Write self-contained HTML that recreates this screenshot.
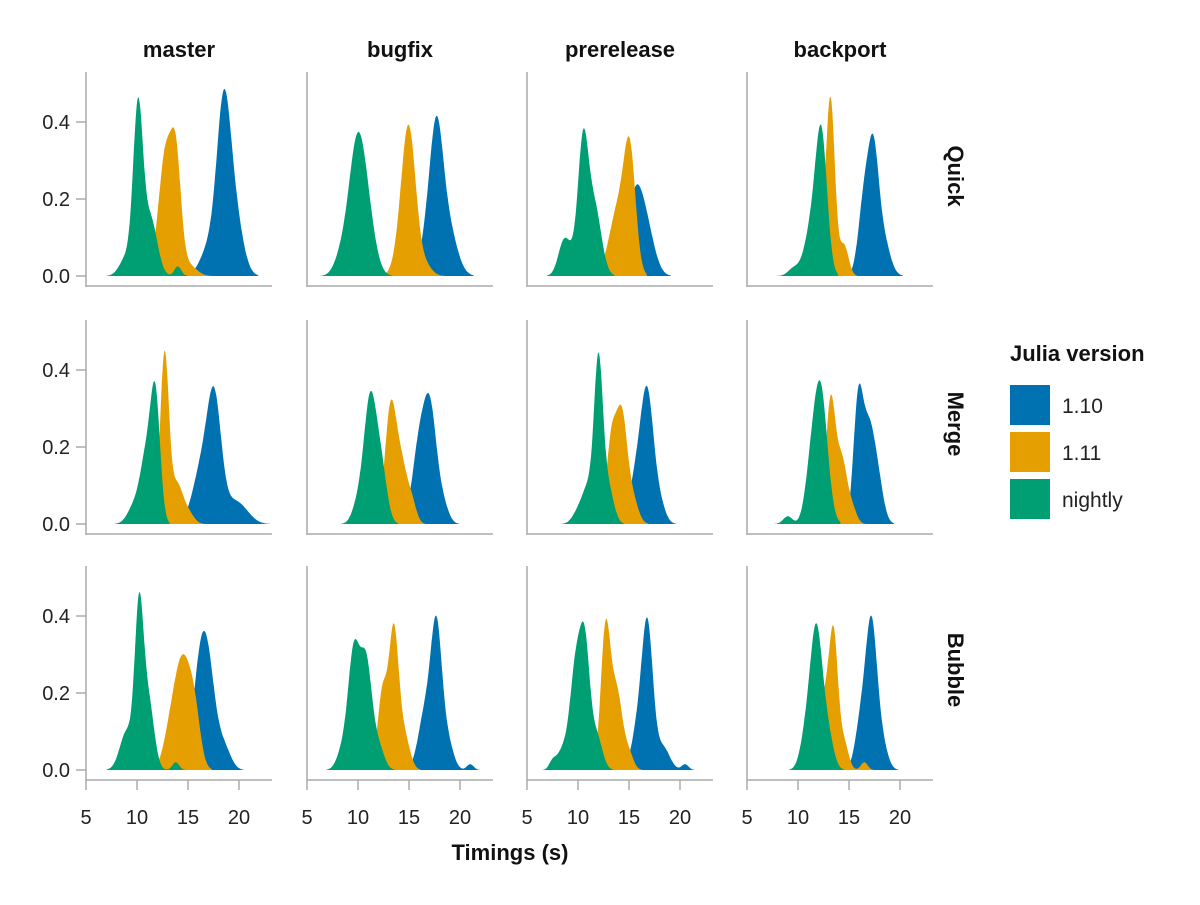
<!DOCTYPE html>
<html><head><meta charset="utf-8"><style>
html,body{margin:0;padding:0;background:#fff}
svg text{font-family:"Liberation Sans",sans-serif}
</style></head><body>
<svg id="s" width="1200" height="900" xmlns="http://www.w3.org/2000/svg"></svg>
<script>
const S=document.getElementById('s');
const C={b:'#0072b2',o:'#e69f00',g:'#009e73'};
const colX=[86,307,527,747], rowZero=[276,524,770];
const cols=['master','bugfix','prerelease','backport'], rows=['Quick','Merge','Bubble'];
const D=[
[
 {b:[[18.5,0.6,0.4],[19.6,0.7,0.15],[17.2,0.8,0.08]],o:[[12.8,0.5,0.28],[13.8,0.45,0.3],[12.0,0.5,0.06],[15,0.7,0.03]],g:[[10.1,0.42,0.42],[11.3,0.6,0.15],[9,0.6,0.05],[14,0.3,0.025]]},
 {b:[[17.7,0.55,0.3],[18.7,0.8,0.14],[16.8,0.6,0.1]],o:[[15,0.6,0.36],[14.2,0.6,0.06],[16.5,0.6,0.03]],g:[[9.9,0.75,0.33],[11,0.7,0.1],[8.3,0.6,0.04]]},
 {b:[[15.6,0.7,0.2],[16.8,0.7,0.1]],o:[[15.1,0.5,0.27],[14,0.8,0.18]],g:[[10.5,0.45,0.32],[11.6,0.6,0.18],[8.6,0.5,0.08],[9.5,0.6,0.04]]},
 {b:[[17.4,0.45,0.27],[16.5,0.5,0.2],[18.3,0.6,0.1]],o:[[13.2,0.38,0.44],[14.5,0.4,0.08],[12.5,0.4,0.08]],g:[[12.3,0.5,0.35],[11.3,0.6,0.12],[9.6,0.5,0.02]]}
],
[
 {b:[[17.6,0.6,0.28],[16.4,0.8,0.15],[19.3,0.9,0.05],[20.5,0.8,0.02]],o:[[12.7,0.38,0.44],[13.9,0.5,0.1],[15,0.5,0.03]],g:[[11.8,0.42,0.32],[10.9,0.5,0.16],[9.8,0.6,0.05]]},
 {b:[[17.1,0.55,0.27],[16,0.6,0.2],[18.3,0.5,0.05]],o:[[13.2,0.5,0.3],[14.3,0.5,0.14],[15.3,0.4,0.05]],g:[[11.2,0.55,0.32],[12.3,0.5,0.13],[10,0.5,0.05]]},
 {b:[[16.8,0.55,0.32],[15.7,0.6,0.12],[18,0.5,0.05]],o:[[14.3,0.45,0.26],[13.3,0.45,0.22],[15.3,0.5,0.07]],g:[[12,0.38,0.4],[12.9,0.5,0.1],[11,0.5,0.09],[10,0.5,0.03]]},
 {b:[[15.9,0.42,0.31],[16.9,0.5,0.22],[17.8,0.5,0.11]],o:[[13.2,0.42,0.32],[14.3,0.45,0.16],[15.3,0.4,0.04]],g:[[12.2,0.6,0.35],[11.2,0.5,0.1],[9,0.4,0.02]]}
],
[
 {b:[[16.2,0.65,0.26],[17.1,0.6,0.18],[18.5,0.6,0.06]],o:[[14.5,0.75,0.28],[15.7,0.5,0.1],[13.2,0.6,0.07]],g:[[10.2,0.38,0.39],[11.1,0.5,0.18],[9,0.6,0.1],[13.8,0.3,0.02]]},
 {b:[[17.7,0.48,0.35],[16.6,0.6,0.15],[18.8,0.5,0.07],[21,0.3,0.015]],o:[[13.5,0.42,0.35],[12.4,0.42,0.2],[14.5,0.5,0.09]],g:[[9.6,0.5,0.3],[10.8,0.5,0.27],[8.5,0.5,0.05],[12,0.5,0.06]]},
 {b:[[16.8,0.48,0.37],[15.8,0.5,0.1],[18.3,0.6,0.06],[20.5,0.3,0.015]],o:[[12.7,0.42,0.36],[13.8,0.5,0.2],[15,0.4,0.04]],g:[[10.7,0.42,0.28],[9.8,0.5,0.27],[8.5,0.5,0.05],[11.8,0.5,0.09],[7.5,0.3,0.02]]},
 {b:[[17.2,0.48,0.36],[16.2,0.5,0.13],[18.2,0.5,0.07]],o:[[13.5,0.38,0.33],[12.6,0.45,0.18],[14.5,0.4,0.07],[16.5,0.3,0.02]],g:[[11.8,0.52,0.35],[10.8,0.5,0.09],[12.9,0.5,0.09]]}
]];
let h='';
function dens(cs,x){let s=0;for(const [m,sg,a] of cs)s+=a*Math.exp(-0.5*((x-m)/(sg*1.12))**2);return s;}
for(let r=0;r<3;r++)for(let c=0;c<4;c++){
 const x0=colX[c], z=rowZero[r];
 const X=v=>x0+(v-5)*10.2, Y=v=>z-v*385;
 for(const k of ['b','o','g']){
  const cs=D[r][c][k];
  let lo=Math.min(...cs.map(q=>q[0]-3.3*q[1])),hi=Math.max(...cs.map(q=>q[0]+3.3*q[1]));
  let p='M'+X(lo).toFixed(1)+','+z;
  for(let v=lo;v<=hi;v+=0.05)p+='L'+X(v).toFixed(1)+','+Y(dens(cs,v)).toFixed(1);
  p+='L'+X(hi).toFixed(1)+','+z+'Z';
  h+=`<path d="${p}" fill="${C[k]}"/>`;
 }
 const top=z-204, bot=z+10;
 h+=`<line x1="${x0}" y1="${top}" x2="${x0}" y2="${bot+1}" stroke="#aaa" stroke-width="1.5"/>`;
 h+=`<line x1="${x0}" y1="${bot}" x2="${x0+186}" y2="${bot}" stroke="#aaa" stroke-width="1.5"/>`;
 if(c==0){for(const t of [0,0.2,0.4]){const y=Y(t);h+=`<line x1="${x0-10}" y1="${y}" x2="${x0}" y2="${y}" stroke="#aaa" stroke-width="1.5"/><text x="${x0-16}" y="${y+7}" font-size="20" text-anchor="end" fill="#222">${t.toFixed(1)}</text>`;}}
 if(r==2){for(const t of [5,10,15,20]){const x=X(t);h+=`<line x1="${x}" y1="${bot}" x2="${x}" y2="${bot+10}" stroke="#aaa" stroke-width="1.5"/><text x="${x}" y="${bot+44}" font-size="20" text-anchor="middle" fill="#222">${t}</text>`;}}
 if(r==0)h+=`<text x="${x0+93}" y="57" font-size="22" font-weight="bold" text-anchor="middle" fill="#111">${cols[c]}</text>`;
 if(c==3)h+=`<text transform="translate(948,${z-100}) rotate(90)" font-size="22" font-weight="bold" text-anchor="middle" fill="#111">${rows[r]}</text>`;
}
h+=`<text x="510" y="860" font-size="22" font-weight="bold" text-anchor="middle" fill="#111">Timings (s)</text>`;
h+=`<text x="1010" y="361" font-size="22" font-weight="bold" fill="#111">Julia version</text>`;
[['b','1.10',385],['o','1.11',432],['g','nightly',479]].forEach(([k,l,y])=>{h+=`<rect x="1010" y="${y}" width="40" height="40" fill="${C[k]}"/><text x="1062" y="${y+28}" font-size="21" fill="#222">${l}</text>`;});
S.innerHTML=h;
</script>
</body></html>
